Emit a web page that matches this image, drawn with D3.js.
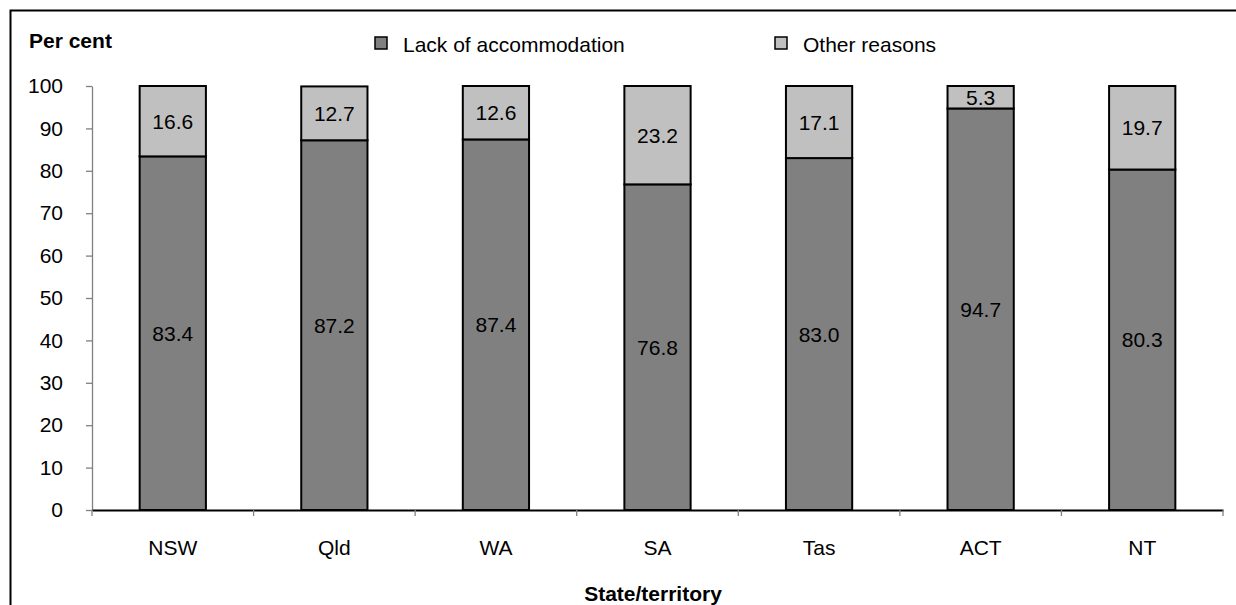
<!DOCTYPE html>
<html><head><meta charset="utf-8">
<script src="https://cdn.jsdelivr.net/npm/d3@7"></script>
<style>
html,body{margin:0;padding:0;background:#fff;}
text{font-family:"Liberation Sans",Arial,sans-serif;}
</style></head>
<body>
<svg id="chart" width="1236" height="605"></svg>
<script>
const categories = ["NSW","Qld","WA","SA","Tas","ACT","NT"];
const lackOfAccommodation = [83.4,87.2,87.4,76.8,83.0,94.7,80.3];
const otherReasons = [16.6,12.7,12.6,23.2,17.1,5.3,19.7];
const yTicks = [0,10,20,30,40,50,60,70,80,90,100];
const seriesNames = ["Lack of accommodation","Other reasons"];
const seriesColors = ["#808080","#c0c0c0"];

const svg = d3.select("#chart");
const FS = 21;

// outer border
svg.append("rect").attr("x",10.5).attr("y",10.5).attr("width",1260).attr("height",640)
  .attr("fill","none").attr("stroke","#000").attr("stroke-width",2);

const x = d3.scaleBand().domain(categories).range([92,1223]).paddingInner(0.59).paddingOuter(0.295);
const y = d3.scaleLinear().domain([0,100]).range([510,86]);

const rows = categories.map((c,i)=>({cat:c, lack:lackOfAccommodation[i], other:otherReasons[i]}));
const stack = d3.stack().keys(["lack","other"])(rows);

// bars
stack.forEach((layer,li)=>{
  svg.append("g").selectAll("rect").data(layer).join("rect")
    .attr("x",d=>x(d.data.cat))
    .attr("width",x.bandwidth())
    .attr("y",d=>y(Math.min(d[1],100)))
    .attr("height",d=>y(d[0])-y(Math.min(d[1],100)))
    .attr("fill",seriesColors[li])
    .attr("stroke","#000").attr("stroke-width",2);
});

// value labels
stack.forEach((layer,li)=>{
  svg.append("g").selectAll("text").data(layer).join("text")
    .attr("x",d=>x(d.data.cat)+x.bandwidth()/2)
    .attr("y",d=>y((d[0]+Math.min(d[1],100))/2))
    .attr("text-anchor","middle").attr("dominant-baseline","central")
    .attr("font-size",FS).attr("fill","#000")
    .text(d=>(li===0?d.data.lack:d.data.other).toFixed(1));
});

// y axis
const yAxis = svg.append("g").attr("transform","translate(92,0)")
  .call(d3.axisLeft(y).tickValues(yTicks).tickSize(6).tickPadding(23).tickSizeOuter(0));
yAxis.select(".domain").attr("stroke","#808080").attr("stroke-width",1.3);
yAxis.selectAll(".tick line").attr("stroke","#808080").attr("stroke-width",1.3);
yAxis.selectAll(".tick text").attr("font-size",FS).attr("font-family","Liberation Sans, Arial, sans-serif").attr("fill","#000");

// x axis
const xAxis = svg.append("g").attr("transform","translate(0,510)")
  .call(d3.axisBottom(x).tickSize(0).tickPadding(30).tickSizeOuter(0));
xAxis.select(".domain").attr("stroke","#000").attr("stroke-width",2);
xAxis.selectAll(".tick text").attr("font-size",FS).attr("font-family","Liberation Sans, Arial, sans-serif").attr("fill","#000");
// boundary ticks between categories
const bounds = categories.map(c=>x(c)-x.step()*x.paddingOuter()).concat([1223]);
svg.append("g").selectAll("line").data(bounds).join("line")
  .attr("x1",d=>d).attr("x2",d=>d).attr("y1",510).attr("y2",516)
  .attr("stroke","#808080").attr("stroke-width",1.3);

// titles
svg.append("text").attr("x",29).attr("y",48).attr("font-size",FS).attr("font-weight","bold").text("Per cent");
svg.append("text").attr("x",653).attr("y",601).attr("text-anchor","middle").attr("font-size",FS).attr("font-weight","bold").text("State/territory");

// legend
const legendX = [375,775];
seriesNames.forEach((n,i)=>{
  svg.append("rect").attr("x",legendX[i]).attr("y",37).attr("width",12).attr("height",12)
    .attr("fill",seriesColors[i]).attr("stroke","#000").attr("stroke-width",1.5);
  svg.append("text").attr("x",legendX[i]+28).attr("y",51.5).attr("font-size",FS).text(n);
});
</script>
</body></html>
